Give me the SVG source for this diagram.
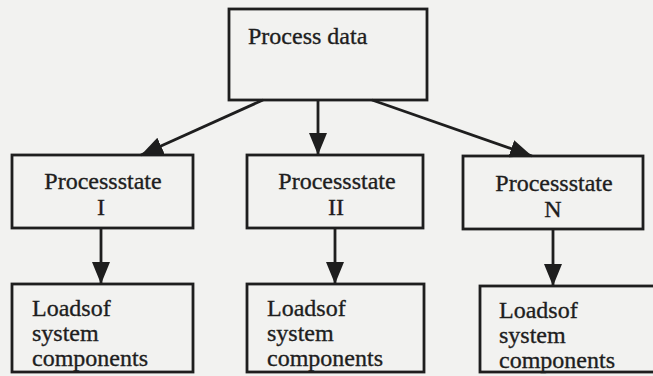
<svg xmlns="http://www.w3.org/2000/svg" width="653" height="376" viewBox="0 0 653 376">
  <style>
    .box { fill: none; stroke: #1e1e1e; stroke-width: 2.8; }
    .lbl { font-size: 24px; fill: #1e1e1e; stroke: #1e1e1e; stroke-width: 0.35; }
    .mid { text-anchor: middle; }
    .edge { stroke: #1e1e1e; stroke-width: 2.8; fill: none; marker-end: url(#head); }
  </style>
  <defs>
    <marker id="head" markerUnits="userSpaceOnUse" markerWidth="22" markerHeight="18" refX="22" refY="9" orient="auto">
      <path d="M0,0 L22,9 L0,18 Z" fill="#1e1e1e"/>
    </marker>
  </defs>

  <rect width="653" height="376" fill="#f2f2f0"/>

  <g id="connectors">
    <line class="edge" x1="263" y1="100" x2="141" y2="155"/>
    <line class="edge" x1="318" y1="100" x2="318" y2="155"/>
    <line class="edge" x1="372" y1="100" x2="532" y2="156"/>
    <line class="edge" x1="101" y1="228" x2="101" y2="284"/>
    <line class="edge" x1="335" y1="228" x2="335" y2="284"/>
    <line class="edge" x1="553" y1="229" x2="553" y2="286"/>
  </g>

  <g font-family="Liberation Serif, DejaVu Serif, Times New Roman, serif">
    <g id="process-data">
      <rect class="box" x="229" y="9" width="198" height="91"/>
      <text class="lbl" x="248" y="44">Process data</text>
    </g>

    <g id="state-1">
      <rect class="box" x="12" y="155" width="181" height="73"/>
      <text class="lbl mid" x="103" y="189">Processstate</text>
      <text class="lbl mid" x="101" y="215">I</text>
    </g>

    <g id="state-2">
      <rect class="box" x="247" y="155" width="176" height="73"/>
      <text class="lbl mid" x="337" y="189">Processstate</text>
      <text class="lbl mid" x="336" y="215">II</text>
    </g>

    <g id="state-n">
      <rect class="box" x="463" y="156" width="180" height="73"/>
      <text class="lbl mid" x="554" y="191">Processstate</text>
      <text class="lbl mid" x="553" y="217">N</text>
    </g>

    <g id="loads-1">
      <rect class="box" x="12" y="284" width="181" height="88"/>
      <text class="lbl" x="32" y="316">Loadsof</text>
      <text class="lbl" x="32" y="341">system</text>
      <text class="lbl" x="32" y="366">components</text>
    </g>

    <g id="loads-2">
      <rect class="box" x="247" y="284" width="177" height="88"/>
      <text class="lbl" x="267" y="316">Loadsof</text>
      <text class="lbl" x="267" y="341">system</text>
      <text class="lbl" x="267" y="366">components</text>
    </g>

    <g id="loads-n">
      <rect class="box" x="480" y="286" width="190" height="86"/>
      <text class="lbl" x="499" y="318">Loadsof</text>
      <text class="lbl" x="499" y="343">system</text>
      <text class="lbl" x="499" y="368">components</text>
    </g>
  </g>
</svg>
